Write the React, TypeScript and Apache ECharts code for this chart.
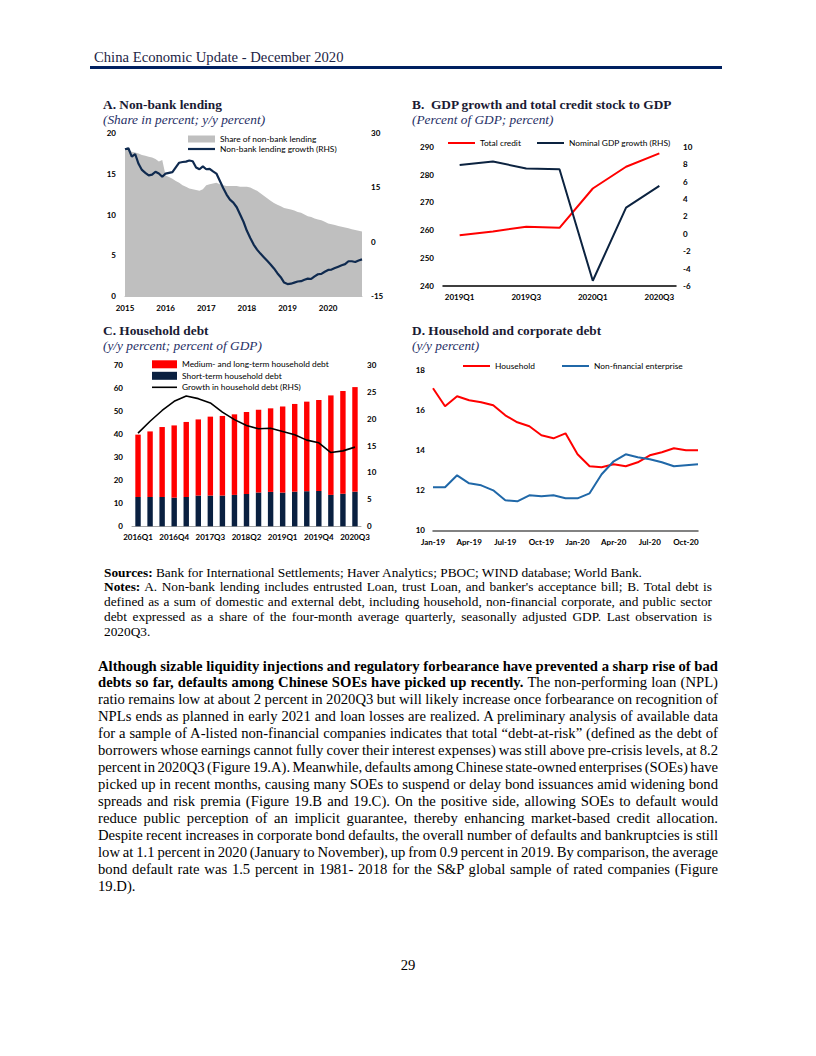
import React, { useEffect, useLayoutEffect, useRef } from "react";
import * as echarts from "echarts";

// ---------- Panel A: Non-bank lending (monthly, Jan 2015 - Nov 2020) ----------
const lendingYears = ["2015", "2016", "2017", "2018", "2019", "2020"];
const monthCodes = ["01", "02", "03", "04", "05", "06", "07", "08", "09", "10", "11", "12"];
const lendingMonths: string[] = [];
lendingYears.forEach((y) => monthCodes.forEach((m) => lendingMonths.push(`${y}-${m}`)));
lendingMonths.splice(71);

const shareNonBank = [
  18.0, 17.9, 17.7, 17.6, 17.5, 17.3, 17.2, 17.1, 17.0, 16.8, 16.5, 16.7,
  14.8, 14.6, 14.4, 14.1, 13.9, 13.6, 13.4, 13.2, 13.1, 13.0, 12.9, 13.1,
  13.6, 13.7, 13.8, 13.9, 13.7, 13.6, 13.5, 13.5, 13.5, 13.5, 13.4, 13.4,
  13.4, 13.3, 13.1, 12.9, 12.6, 12.3, 12.0, 11.7, 11.4, 11.2, 11.0, 10.8,
  10.7, 10.6, 10.5, 10.3, 10.2, 10.0, 9.8, 9.7, 9.5, 9.4, 9.3, 9.1,
  8.9, 8.8, 8.7, 8.6, 8.5, 8.4, 8.3, 8.2, 8.1, 8.0, 7.9,
];
const growthNonBank = [
  25.5, 25.8, 23.5, 24.2, 21.5, 19.8, 19.0, 18.3, 18.5, 19.3, 18.8, 17.9,
  18.8, 19.0, 19.2, 20.5, 21.8, 22.0, 22.1, 22.4, 22.2, 20.5, 20.0, 20.8,
  20.0, 20.1, 19.4, 18.8, 16.8, 14.8, 13.0, 11.6, 10.8, 9.5, 7.5, 5.5,
  3.0, 1.0, -0.8, -2.2, -3.3, -4.3, -5.3, -6.3, -7.4, -8.7, -9.8, -11.3,
  -11.7, -11.6, -11.3, -11.0, -10.9, -10.5, -10.2, -10.3, -9.6, -9.0, -8.9, -8.3,
  -7.8, -7.7, -7.3, -6.9, -6.5, -6.2, -5.4, -5.4, -5.6, -5.2, -4.9,
];

// ---------- Panel B: GDP growth and total credit ----------
const quartersB = ["2019Q1", "2019Q2", "2019Q3", "2019Q4", "2020Q1", "2020Q2", "2020Q3"];
const totalCredit = [258.2, 259.6, 261.3, 260.9, 275.0, 282.8, 287.6];
const nominalGdpGrowth = [7.9, 8.3, 7.5, 7.4, -5.4, 3.0, 5.5];

// ---------- Panel C: Household debt ----------
const quartersC = [
  "2016Q1", "2016Q2", "2016Q3", "2016Q4", "2017Q1", "2017Q2", "2017Q3", "2017Q4",
  "2018Q1", "2018Q2", "2018Q3", "2018Q4", "2019Q1", "2019Q2", "2019Q3", "2019Q4",
  "2020Q1", "2020Q2", "2020Q3",
];
const shortTermDebt = [12.7, 12.7, 12.7, 12.4, 12.7, 13.3, 13.3, 13.3, 13.6, 14.0, 14.6, 14.9, 14.6, 15.0, 15.2, 15.3, 13.6, 14.1, 15.0];
const mediumLongDebt = [27.0, 28.4, 30.3, 31.3, 32.5, 33.0, 34.2, 34.5, 34.9, 35.5, 35.9, 36.2, 37.3, 38.0, 38.8, 39.4, 43.1, 44.5, 45.3];
const householdDebtGrowth = [17.3, 19.5, 21.5, 23.2, 24.2, 23.7, 22.9, 21.2, 19.8, 18.7, 18.1, 18.2, 17.6, 17.0, 16.0, 15.5, 13.7, 14.0, 14.7];

// ---------- Panel D: Household and corporate debt ----------
const monthsD = [
  "Jan-19", "Feb-19", "Mar-19", "Apr-19", "May-19", "Jun-19", "Jul-19", "Aug-19", "Sep-19", "Oct-19", "Nov-19", "Dec-19",
  "Jan-20", "Feb-20", "Mar-20", "Apr-20", "May-20", "Jun-20", "Jul-20", "Aug-20", "Sep-20", "Oct-20", "Nov-20",
];
const householdD = [17.1, 16.2, 16.7, 16.5, 16.4, 16.25, 15.75, 15.4, 15.2, 14.75, 14.6, 14.85, 13.8, 13.2, 13.15, 13.3, 13.2, 13.4, 13.75, 13.9, 14.1, 14.0, 14.0];
const enterpriseD = [12.15, 12.15, 12.75, 12.35, 12.25, 12.0, 11.5, 11.45, 11.75, 11.7, 11.75, 11.6, 11.6, 11.85, 12.8, 13.45, 13.8, 13.65, 13.55, 13.4, 13.2, 13.25, 13.3];

// ---------- Page text ----------
const headerText = "China Economic Update - December 2020";
const notesLines: { parts: { t: string; b?: boolean }[]; justify: boolean }[] = [
  { parts: [{ t: "Sources:", b: true }, { t: " Bank for International Settlements; Haver Analytics; PBOC; WIND database; World Bank." }], justify: false },
  { parts: [{ t: "Notes:", b: true }, { t: " A. Non-bank lending includes entrusted Loan, trust Loan, and banker's acceptance bill; B. Total debt is" }], justify: true },
  { parts: [{ t: "defined as a sum of domestic and external debt, including household, non-financial corporate, and public sector" }], justify: true },
  { parts: [{ t: "debt expressed as a share of the four-month average quarterly, seasonally adjusted GDP. Last observation is" }], justify: true },
  { parts: [{ t: "2020Q3." }], justify: false },
];
const bodyLines: { parts: { t: string; b?: boolean }[]; justify: boolean }[] = [
  { parts: [{ t: "Although sizable liquidity injections and regulatory forbearance have prevented a sharp rise of bad", b: true }], justify: true },
  { parts: [{ t: "debts so far, defaults among Chinese SOEs have picked up recently.", b: true }, { t: " The non-performing loan (NPL)" }], justify: true },
  { parts: [{ t: "ratio remains low at about 2 percent in 2020Q3 but will likely increase once forbearance on recognition of" }], justify: true },
  { parts: [{ t: "NPLs ends as planned in early 2021 and loan losses are realized. A preliminary analysis of available data" }], justify: true },
  { parts: [{ t: "for a sample of A-listed non-financial companies indicates that total \u201cdebt-at-risk\u201d (defined as the debt of" }], justify: true },
  { parts: [{ t: "borrowers whose earnings cannot fully cover their interest expenses) was still above pre-crisis levels, at 8.2" }], justify: true },
  { parts: [{ t: "percent in 2020Q3 (Figure 19.A). Meanwhile, defaults among Chinese state-owned enterprises (SOEs) have" }], justify: true },
  { parts: [{ t: "picked up in recent months, causing many SOEs to suspend or delay bond issuances amid widening bond" }], justify: true },
  { parts: [{ t: "spreads and risk premia (Figure 19.B and 19.C). On the positive side, allowing SOEs to default would" }], justify: true },
  { parts: [{ t: "reduce public perception of an implicit guarantee, thereby enhancing market-based credit allocation." }], justify: true },
  { parts: [{ t: "Despite recent increases in corporate bond defaults, the overall number of defaults and bankruptcies is still" }], justify: true },
  { parts: [{ t: "low at 1.1 percent in 2020 (January to November), up from 0.9 percent in 2019. By comparison, the average" }], justify: true },
  { parts: [{ t: "bond default rate was 1.5 percent in 1981- 2018 for the S&P global sample of rated companies (Figure" }], justify: true },
  { parts: [{ t: "19.D)." }], justify: false },
];

const SERIF = "'Liberation Serif', 'Times New Roman', serif";
const SANS = "Lato, 'Noto Sans', sans-serif";

function TextLine(props: {
  top: number; left: number; width: number; size: number; lh: number;
  justify: boolean; color?: string; parts: { t: string; b?: boolean }[];
}) {
  const ref = useRef<HTMLDivElement>(null);
  useLayoutEffect(() => {
    const fit = () => {
      const el = ref.current;
      if (!el) return;
      const inner = el.firstElementChild as HTMLElement;
      el.style.wordSpacing = "0px";
      if (!props.justify) return;
      const w = inner.getBoundingClientRect().width;
      const n = (el.textContent || "").split(" ").length - 1;
      if (n > 0) el.style.wordSpacing = (props.width - w) / n + "px";
    };
    fit();
    const f = (document as any).fonts;
    if (f && f.ready) f.ready.then(fit);
  }, []);
  return (
    <div
      ref={ref}
      style={{
        position: "absolute", top: props.top, left: props.left, width: props.width,
        fontSize: props.size, lineHeight: props.lh + "px", whiteSpace: "nowrap",
        fontFamily: SERIF, color: props.color || "#000",
      }}
    >
      <span>
        {props.parts.map((p, i) => (
          <span key={i} style={{ fontWeight: p.b ? "bold" : "normal" }}>{p.t}</span>
        ))}
      </span>
    </div>
  );
}

function buildOption(): any {
  const lab = { fontFamily: SANS, fontSize: 8, fontWeight: "bold", color: "#000" };
  const leg = { fontFamily: SANS, fontSize: 8.4, color: "#000", lineHeight: 10 };
  const tStyle = { fontFamily: SERIF, fontSize: 13.33, fontWeight: "bold", color: "#1a1a33", lineHeight: 15 };
  const sStyle = { fontFamily: SERIF, fontSize: 13.33, fontStyle: "italic", color: "#1f2f66", lineHeight: 15 };
  const title = (text: string, subtext: string, left: number, top: number) => ({
    text, subtext, left, top, itemGap: 0, padding: 0, textStyle: tStyle, subtextStyle: sStyle,
  });
  const legendItem = (name: string, left: number, centerY: number, w: number, h: number) => ({
    left, top: centerY - 5, itemWidth: w, itemHeight: h, padding: 0,
    textStyle: leg, data: [{ name, icon: "rect" }],
  });
  const valAxis = (gridIndex: number, min: number, max: number, interval: number, position: string, margin: number) => ({
    type: "value", gridIndex, min, max, interval, position,
    axisLine: { show: false }, axisTick: { show: false }, splitLine: { show: false },
    axisLabel: { ...lab, margin },
  });
  const catAxis = (gridIndex: number, data: string[], boundaryGap: boolean, interval: number, margin: number, lineColor: string, lineWidth: number, formatter?: any) => ({
    type: "category", gridIndex, data, boundaryGap,
    axisTick: { show: false },
    axisLine: { show: true, onZero: false, lineStyle: { color: lineColor, width: lineWidth } },
    axisLabel: { ...lab, interval, margin, ...(formatter ? { formatter } : {}) },
  });
  const navy = "#0F2A4F";
  const red = "#FF0000";
  return {
    animation: false,
    textStyle: { fontFamily: SANS },
    title: [
      title("A. Non-bank lending", "(Share in percent; y/y percent)", 103, 97),
      title("B.  GDP growth and total credit stock to GDP", "(Percent of GDP; percent)", 412, 97),
      title("C. Household debt", "(y/y percent; percent of GDP)", 103, 323),
      title("D. Household and corporate debt", "(y/y percent)", 412, 323),
    ],
    legend: [
      legendItem("Share of non-bank lending", 188, 139, 27, 7),
      legendItem("Non-bank lending growth (RHS)", 188, 149, 27, 2.2),
      legendItem("Total credit", 448, 143, 27, 2),
      legendItem("Nominal GDP growth (RHS)", 537, 143, 27, 2),
      legendItem("Medium- and long-term household debt", 152, 364.3, 25, 8),
      legendItem("Short-term household debt", 152, 375.8, 25, 8),
      legendItem("Growth in household debt (RHS)", 152, 387.3, 25, 1.6),
      legendItem("Household", 463, 366, 27, 2),
      legendItem("Non-financial enterprise", 562, 366, 27, 2),
    ],
    grid: [
      { left: 125, top: 133, width: 237, height: 163 },
      { left: 443, top: 146.7, width: 233, height: 139.3 },
      { left: 132, top: 364.7, width: 229, height: 161.6 },
      { left: 433, top: 370.3, width: 265, height: 160 },
    ],
    xAxis: [
      catAxis(0, lendingMonths, false, 11, 8, "#BFBFBF", 1, (v: string) => v.slice(0, 4)),
      catAxis(1, quartersB, true, 1, 6.5, "#000", 1.5),
      catAxis(2, quartersC, true, 2, 7, "#A6A6A6", 1),
      catAxis(3, monthsD, false, 2, 7.5, "#595959", 1.5),
    ],
    yAxis: [
      valAxis(0, 0, 20, 5, "left", 9),
      valAxis(0, -15, 30, 15, "right", 9),
      valAxis(1, 240, 290, 10, "left", 9),
      valAxis(1, -6, 10, 2, "right", 7),
      valAxis(2, 0, 70, 10, "left", 9),
      valAxis(2, 0, 30, 5, "right", 6),
      valAxis(3, 10, 18, 2, "left", 8),
    ],
    series: [
      {
        name: "Share of non-bank lending", type: "line", xAxisIndex: 0, yAxisIndex: 0, data: shareNonBank,
        symbol: "none", lineStyle: { width: 0, color: "#BFBFBF" }, areaStyle: { color: "#BFBFBF", opacity: 1 },
        itemStyle: { color: "#BFBFBF" }, z: 1,
      },
      {
        name: "Non-bank lending growth (RHS)", type: "line", xAxisIndex: 0, yAxisIndex: 1, data: growthNonBank,
        symbol: "none", lineStyle: { width: 2.2, color: navy }, itemStyle: { color: navy }, z: 3,
      },
      {
        name: "Total credit", type: "line", xAxisIndex: 1, yAxisIndex: 2, data: totalCredit,
        symbol: "none", lineStyle: { width: 2, color: red }, itemStyle: { color: red },
      },
      {
        name: "Nominal GDP growth (RHS)", type: "line", xAxisIndex: 1, yAxisIndex: 3, data: nominalGdpGrowth,
        symbol: "none", lineStyle: { width: 2, color: "#0C2340" }, itemStyle: { color: "#0C2340" },
      },
      {
        name: "Short-term household debt", type: "bar", xAxisIndex: 2, yAxisIndex: 4, data: shortTermDebt,
        stack: "hh", barWidth: "45%", itemStyle: { color: "#0A2040" },
      },
      {
        name: "Medium- and long-term household debt", type: "bar", xAxisIndex: 2, yAxisIndex: 4, data: mediumLongDebt,
        stack: "hh", barWidth: "45%", itemStyle: { color: red },
      },
      {
        name: "Growth in household debt (RHS)", type: "line", xAxisIndex: 2, yAxisIndex: 5, data: householdDebtGrowth,
        symbol: "none", lineStyle: { width: 1.6, color: "#000" }, itemStyle: { color: "#000" }, z: 4,
      },
      {
        name: "Household", type: "line", xAxisIndex: 3, yAxisIndex: 6, data: householdD,
        symbol: "none", lineStyle: { width: 2, color: red }, itemStyle: { color: red },
      },
      {
        name: "Non-financial enterprise", type: "line", xAxisIndex: 3, yAxisIndex: 6, data: enterpriseD,
        symbol: "none", lineStyle: { width: 2, color: "#2068A8" }, itemStyle: { color: "#2068A8" },
      },
    ],
  };
}

export default function App() {
  const chartRef = useRef<HTMLDivElement>(null);
  useEffect(() => {
    if (!chartRef.current) return;
    const chart = echarts.init(chartRef.current, undefined, { renderer: "svg" });
    chart.setOption(buildOption());
    return () => chart.dispose();
  }, []);

  const noteTop0 = 573 - 7.4;
  const bodyTop0 = 666 - 8.46;
  return (
    <div style={{ position: "absolute", left: 0, top: 0, width: 816, height: 1056, background: "#fff", overflow: "hidden" }}>
      <div style={{ position: "absolute", left: 94, top: 48, fontFamily: SERIF, fontSize: 14.67, lineHeight: "18px", color: "#1c2445", whiteSpace: "nowrap" }}>
        {headerText}
      </div>
      <div style={{ position: "absolute", left: 90, top: 66, width: 632, height: 2.5, background: "#002060" }} />
      <div ref={chartRef} style={{ position: "absolute", left: 0, top: 0, width: 816, height: 560 }} />
      {notesLines.map((l, i) => (
        <TextLine key={"n" + i} top={noteTop0 + i * 14.75} left={104} width={608} size={13.33} lh={14.8} justify={l.justify} parts={l.parts} />
      ))}
      {bodyLines.map((l, i) => (
        <TextLine key={"b" + i} top={bodyTop0 + i * 16.92} left={98} width={620} size={14.67} lh={16.92} justify={l.justify} parts={l.parts} />
      ))}
      <div style={{ position: "absolute", left: 0, width: 816, top: 956, textAlign: "center", fontFamily: SERIF, fontSize: 14.67, lineHeight: "18px", color: "#000" }}>
        29
      </div>
    </div>
  );
}
